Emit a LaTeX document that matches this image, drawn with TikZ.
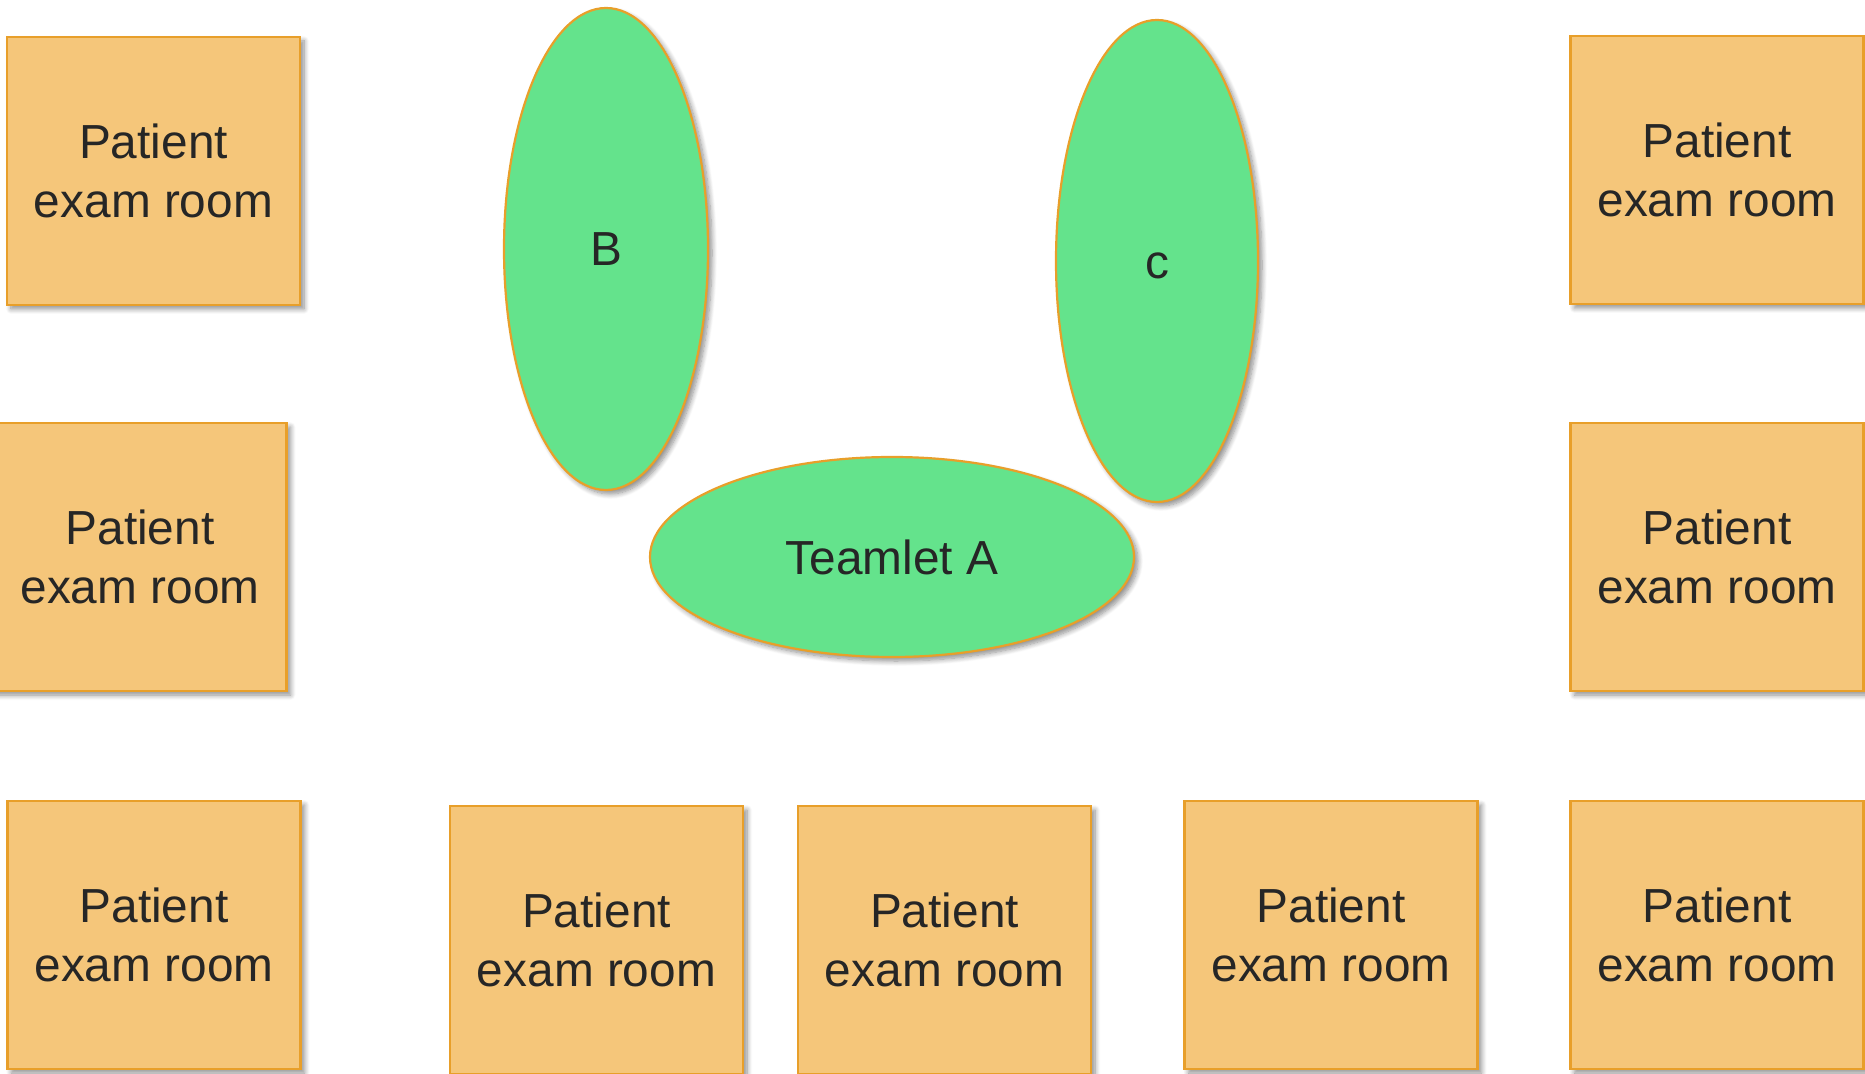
\documentclass[tikz,border=0pt]{standalone}
\usepackage{fontspec}
\setmainfont{Liberation Sans}
\usetikzlibrary{shapes.geometric,shadows.blur}
\definecolor{roomfill}{HTML}{F5C67A}
\definecolor{edgeorange}{HTML}{E89F2A}
\definecolor{teamgreen}{HTML}{64E38C}
\definecolor{inktext}{HTML}{262626}
\tikzset{
  shade/.style={blur shadow={shadow xshift=2pt, shadow yshift=-2pt,
      shadow blur radius=2.5pt, shadow blur steps=8, shadow opacity=45}},
  room/.style={shade, draw=edgeorange, fill=roomfill, line width=1.2pt,
      minimum width=146.5pt, minimum height=134pt, inner sep=0pt,
      align=center, text=inktext,
      font=\fontsize{23.9pt}{29.8pt}\selectfont},
  team/.style={shade, ellipse, draw=edgeorange, fill=teamgreen, line width=1.1pt,
      inner sep=0pt, text=inktext, font=\fontsize{23.9pt}{29.8pt}\selectfont},
}
\begin{document}
\begin{tikzpicture}[x=0.5pt,y=-0.5pt]
\useasboundingbox (0,0) rectangle (1865,1074);
% exam rooms, left column
\node[room] (r1) at (153.5,171) {Patient\\exam room};
\node[room] (r2) at (140,557) {Patient\\exam room};
\node[room] (r3) at (154,935) {Patient\\exam room};
% exam rooms, bottom row
\node[room] (r4) at (596.5,940) {Patient\\exam room};
\node[room] (r5) at (944.5,940) {Patient\\exam room};
\node[room] (r6) at (1331,935) {Patient\\exam room};
% exam rooms, right column
\node[room] (r7) at (1717,935) {Patient\\exam room};
\node[room] (r8) at (1717,170) {Patient\\exam room};
\node[room] (r9) at (1717,557) {Patient\\exam room};
% teamlets
\node[team, minimum width=102pt, minimum height=241pt] (tb) at (606,249) {B};
\node[team, minimum width=101pt, minimum height=241pt,
      text height=18pt, text depth=0pt] (tc) at (1157,261) {c};
\node[team, minimum width=242pt, minimum height=100pt] (ta) at (892,557) {Teamlet A};
\end{tikzpicture}
\end{document}
